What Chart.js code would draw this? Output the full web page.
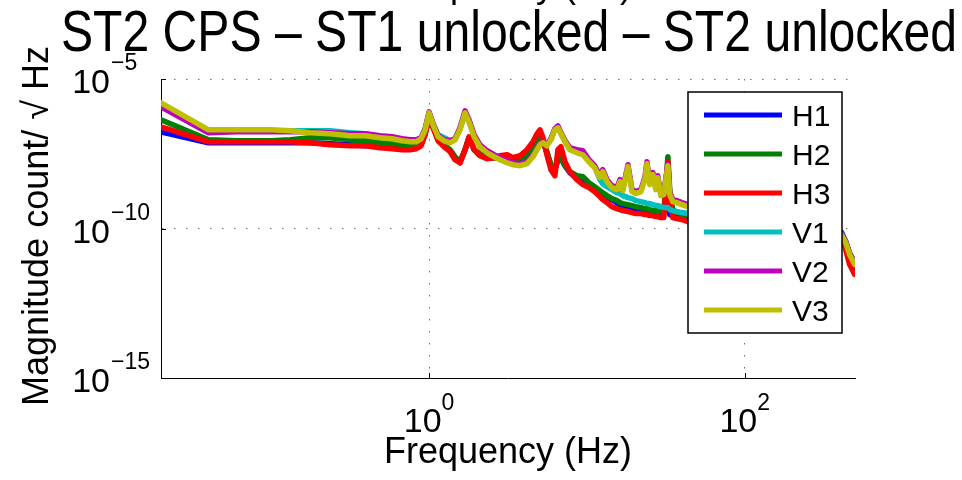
<!DOCTYPE html>
<html>
<head>
<meta charset="utf-8">
<script src="https://cdn.jsdelivr.net/npm/chart.js@4.4.1/dist/chart.umd.min.js"></script>
<style>
  html, body { margin:0; padding:0; background:#fff; }
  #wrap { width:962px; height:480px; }
</style>
</head>
<body>
<div id="wrap"><canvas id="chart" width="962" height="480"></canvas></div>
<script>
// Dados (frequência em Hz, magnitude em count/√Hz)
const freqs = [0.02,0.04,0.06,0.08,0.1,0.132,0.177,0.236,0.316,0.394,
  0.49,0.583,0.675,0.758,0.828,0.889,0.944,1.0,1.06,1.14,
  1.245,1.36,1.46,1.57,1.69,1.79,1.93,2.10,2.33,2.58,
  2.81,3.12,3.40,3.77,4.17,4.55,4.83,5.04,5.27,5.58,
  5.92,6.27,6.55,6.84,7.26,7.80,8.64,9.43,10.3,11.2,
  12.1,12.6,13.4,14.4,15.5,16.2,16.9,18.2,19.3,20.4,
  22.0,23.3,24.0,25.0,26.2,27.3,28.1,29.4,30.7,32.6,
  33.5,35.0,37.1,39.9,43.6,60,93,144,223,345,
  411,436,462,497];

const h1 = [1.71e-7,7.36e-8,7.36e-8,7.36e-8,7.36e-8,7.36e-8,7.36e-8,6.81e-8,6.31e-8,5.84e-8,
  5.84e-8,5.41e-8,5.01e-8,5.01e-8,5.01e-8,6.31e-8,1.47e-7,6.31e-7,2.51e-7,9.26e-8,
  5.84e-8,3.98e-8,2.33e-8,1.71e-8,4.3e-8,1.08e-7,4.3e-8,2.93e-8,2.51e-8,2.33e-8,
  2.33e-8,2.15e-8,2.0e-8,2.0e-8,2.51e-8,4.3e-8,7.36e-8,1.08e-7,8.58e-8,3.41e-8,
  1.26e-8,9.26e-9,2.0e-8,2.33e-8,1.26e-8,7.36e-9,5.01e-9,3.69e-9,2.71e-9,2.0e-9,
  1.47e-9,1.26e-9,1.08e-9,9.26e-10,7.36e-10,6.31e-10,5.84e-10,5.41e-10,5.01e-10,4.64e-10,
  4.3e-10,3.98e-10,3.98e-10,3.69e-10,3.69e-10,3.41e-10,3.41e-10,3.16e-10,3.41e-10,6.31e-9,
  2.93e-10,2.71e-10,2.71e-10,2.51e-10,2.33e-10,2.15e-10,1.71e-10,1.47e-10,1.26e-10,9.26e-11,
  7.36e-11,3.69e-11,1.47e-11,6.81e-12];

const h2 = [4.3e-7,9.26e-8,8.58e-8,8.58e-8,8.58e-8,9.26e-8,1.08e-7,1.08e-7,9.26e-8,8.58e-8,
  7.36e-8,6.81e-8,6.31e-8,5.84e-8,5.84e-8,6.81e-8,1.58e-7,6.31e-7,2.51e-7,1.0e-7,
  6.31e-8,4.3e-8,2.51e-8,1.58e-8,4.3e-8,1.08e-7,4.3e-8,3.16e-8,2.51e-8,2.33e-8,
  2.33e-8,2.15e-8,2.0e-8,2.0e-8,2.51e-8,4.3e-8,7.36e-8,1.08e-7,8.58e-8,3.69e-8,
  1.36e-8,9.26e-9,2.0e-8,2.33e-8,1.26e-8,7.94e-9,5.84e-9,5.41e-9,3.41e-9,2.51e-9,
  1.85e-9,1.58e-9,1.26e-9,1.0e-9,8.58e-10,7.36e-10,6.81e-10,6.31e-10,5.84e-10,5.41e-10,
  5.01e-10,4.64e-10,4.64e-10,4.3e-10,3.98e-10,3.98e-10,3.69e-10,3.69e-10,3.41e-10,2.51e-8,
  2.0e-9,4.3e-10,3.41e-10,2.93e-10,2.71e-10,2.33e-10,1.85e-10,1.58e-10,1.26e-10,9.26e-11,
  6.31e-11,2.93e-11,1.08e-11,5.01e-12];

const h3 = [2.51e-7,7.94e-8,7.94e-8,7.94e-8,7.94e-8,7.94e-8,7.36e-8,6.31e-8,5.84e-8,5.84e-8,
  5.01e-8,4.64e-8,4.3e-8,4.3e-8,4.64e-8,5.84e-8,1.36e-7,5.84e-7,2.33e-7,8.58e-8,
  5.41e-8,3.69e-8,2.0e-8,1.58e-8,4.3e-8,1.17e-7,4.3e-8,2.71e-8,2.15e-8,2.33e-8,
  2.71e-8,2.93e-8,2.33e-8,2.71e-8,4.3e-8,7.94e-8,1.47e-7,2.0e-7,1.08e-7,2.93e-8,
  9.26e-9,5.84e-9,4.3e-8,5.41e-8,1.71e-8,7.94e-9,4.3e-9,2.93e-9,2.33e-9,1.71e-9,
  1.17e-9,9.26e-10,7.36e-10,5.41e-10,4.64e-10,4.3e-10,3.98e-10,3.69e-10,3.41e-10,3.16e-10,
  3.16e-10,2.93e-10,2.93e-10,2.71e-10,2.71e-10,2.51e-10,2.51e-10,2.33e-10,2.33e-10,1.71e-8,
  9.26e-10,2.33e-10,2.15e-10,2.0e-10,1.71e-10,1.47e-10,1.26e-10,1.08e-10,9.26e-11,6.81e-11,
  5.01e-11,2.0e-11,6.31e-12,2.93e-12];

const v1 = [1.36e-6,1.85e-7,1.85e-7,1.85e-7,1.85e-7,1.85e-7,1.85e-7,1.85e-7,1.58e-7,1.47e-7,
  1.17e-7,1.0e-7,9.26e-8,8.58e-8,8.58e-8,1.08e-7,2.15e-7,7.36e-7,3.16e-7,1.36e-7,
  1.08e-7,8.58e-8,1.0e-7,2.15e-7,7.94e-7,3.98e-7,1.26e-7,5.84e-8,3.69e-8,2.71e-8,
  2.15e-8,1.71e-8,1.47e-8,1.36e-8,1.58e-8,2.71e-8,4.64e-8,6.81e-8,7.94e-8,6.31e-8,
  1.0e-7,2.15e-7,2.51e-7,1.58e-7,8.58e-8,4.64e-8,3.69e-8,3.16e-8,1.85e-8,1.17e-8,
  4.3e-9,3.16e-9,2.51e-9,2.0e-9,1.58e-9,1.47e-9,1.26e-9,1.08e-9,1.0e-9,8.58e-10,
  7.94e-10,7.36e-10,6.81e-10,6.81e-10,6.31e-10,5.84e-10,5.84e-10,5.41e-10,5.01e-10,5.01e-10,
  4.3e-10,3.98e-10,3.69e-10,3.41e-10,3.16e-10,2.93e-10,2.33e-10,1.85e-10,1.47e-10,1.0e-10,
  6.81e-11,3.69e-11,1.47e-11,7.36e-12];

const v2 = [1.17e-6,1.58e-7,1.71e-7,1.71e-7,1.71e-7,1.71e-7,1.71e-7,1.58e-7,1.47e-7,1.47e-7,
  1.26e-7,1.17e-7,1.0e-7,9.26e-8,9.26e-8,1.08e-7,2.15e-7,7.94e-7,3.16e-7,1.26e-7,
  9.26e-8,8.58e-8,1.0e-7,2.33e-7,8.58e-7,4.3e-7,1.36e-7,6.31e-8,3.98e-8,2.93e-8,
  2.33e-8,1.85e-8,1.58e-8,1.47e-8,1.71e-8,2.71e-8,4.64e-8,6.81e-8,7.94e-8,6.31e-8,
  1.0e-7,2.15e-7,2.71e-7,1.58e-7,8.58e-8,5.01e-8,4.3e-8,3.98e-8,2.0e-8,1.26e-8,
  5.84e-9,9.26e-9,4.3e-9,2.71e-9,2.33e-9,4.3e-9,2.15e-9,1.36e-8,2.0e-9,1.71e-9,
  2.0e-9,5.01e-9,1.71e-8,3.41e-9,7.36e-9,2.33e-9,5.84e-9,1.47e-9,1.58e-9,1.36e-8,
  1.58e-9,9.26e-10,8.58e-10,7.36e-10,6.31e-10,4.64e-10,3.41e-10,2.51e-10,1.85e-10,1.17e-10,
  6.31e-11,3.69e-11,1.47e-11,7.36e-12];

const v3 = [1.58e-6,2.0e-7,2.0e-7,2.0e-7,2.0e-7,1.85e-7,1.58e-7,1.47e-7,1.26e-7,1.26e-7,
  1.08e-7,1.0e-7,8.58e-8,7.94e-8,7.94e-8,1.0e-7,2.0e-7,7.36e-7,2.93e-7,1.17e-7,
  8.58e-8,7.36e-8,9.26e-8,2.0e-7,7.36e-7,3.69e-7,1.17e-7,5.41e-8,3.41e-8,2.51e-8,
  2.0e-8,1.58e-8,1.36e-8,1.26e-8,1.47e-8,2.51e-8,4.3e-8,6.31e-8,7.36e-8,5.84e-8,
  9.26e-8,2.0e-7,2.33e-7,1.47e-7,7.94e-8,4.3e-8,3.41e-8,2.93e-8,1.71e-8,1.08e-8,
  5.01e-9,7.94e-9,3.69e-9,2.33e-9,2.0e-9,3.69e-9,1.85e-9,1.17e-8,1.71e-9,1.47e-9,
  1.71e-9,4.3e-9,1.47e-8,2.93e-9,6.31e-9,2.0e-9,5.01e-9,1.26e-9,1.36e-9,1.26e-8,
  1.36e-9,7.94e-10,7.36e-10,6.31e-10,5.41e-10,4.3e-10,3.16e-10,2.33e-10,1.71e-10,1.08e-10,
  5.84e-11,3.41e-11,1.36e-11,6.31e-12];

const seriesNames = ['H1','H2','H3','V1','V2','V3'];
const seriesColors = ['#0000ff','#008000','#ff0000','#00bfbf','#bf00bf','#bfbf00'];
const seriesValues = [h1, h2, h3, v1, v2, v3];

const xTickValues = [1, 100];
const xTickExps = ['0', '2'];
const yTickValues = [1e-15, 1e-10, 1e-5];
const yTickExps = ['\u221215', '\u221210', '\u22125'];

const titleText = 'ST2 CPS \u2013 ST1 unlocked \u2013 ST2 unlocked';
const xLabel = 'Frequency (Hz)';
const yLabel = 'Magnitude count/ \u221A Hz';

const FONT = '"Liberation Sans", Arial, Helvetica, sans-serif';

function strokeLine(ctx, x1, y1, x2, y2) {
  ctx.beginPath(); ctx.moveTo(x1, y1); ctx.lineTo(x2, y2); ctx.stroke();
}

// Textos, marcas de eixo e legenda no estilo MATLAB
const decor = {
  id: 'decor',
  beforeDatasetsDraw(chart) {
    const { ctx, chartArea: a, scales: { x, y } } = chart;
    ctx.save();
    ctx.strokeStyle = '#000'; ctx.lineWidth = 1;
    xTickValues.forEach(v => {
      const px = Math.round(x.getPixelForValue(v)) + 0.5;
      strokeLine(ctx, px, a.bottom, px, a.bottom - 5);
    });
    yTickValues.forEach(v => {
      const py = Math.round(y.getPixelForValue(v)) + 0.5;
      strokeLine(ctx, a.left, py, a.left + 5, py);
    });
    ctx.restore();
  },
  afterDraw(chart) {
    const { ctx, chartArea: a, scales: { x, y } } = chart;
    ctx.save();
    ctx.fillStyle = '#000';

    // rótulos dos ticks: 10 com expoente
    ctx.textBaseline = 'alphabetic';
    yTickValues.forEach((v, i) => {
      const py = y.getPixelForValue(v);
      ctx.font = '34px ' + FONT; ctx.textAlign = 'right';
      ctx.fillText('10', 110, py + 14);
      ctx.font = '23px ' + FONT; ctx.textAlign = 'left';
      ctx.fillText(yTickExps[i], 111, py - 9);
    });
    xTickValues.forEach((v, i) => {
      const px = x.getPixelForValue(v);
      ctx.font = '34px ' + FONT;
      const wb = ctx.measureText('10').width;
      ctx.font = '23px ' + FONT;
      const we = ctx.measureText(xTickExps[i]).width;
      const left = px - (wb + we) / 2;
      ctx.textAlign = 'left';
      ctx.font = '34px ' + FONT; ctx.fillText('10', left, a.bottom + 54);
      ctx.font = '23px ' + FONT; ctx.fillText(xTickExps[i], left + wb, a.bottom + 32);
    });

    // eixo x (e resto do subplot de cima, cortado)
    ctx.font = '36px ' + FONT; ctx.textAlign = 'center';
    ctx.fillText(xLabel, 508, 463);
    ctx.fillText(xLabel, 508, -3);

    // eixo y
    ctx.save();
    ctx.translate(48, 226); ctx.rotate(-Math.PI / 2);
    ctx.font = '36px ' + FONT; ctx.textAlign = 'center';
    ctx.fillText(yLabel, 0, 0);
    ctx.restore();

    // título (fonte estreita)
    ctx.save();
    ctx.font = '58px ' + FONT;
    const tw = ctx.measureText(titleText).width;
    ctx.translate(509, 51); ctx.scale(896 / tw, 1);
    ctx.textAlign = 'center';
    ctx.fillText(titleText, 0, 0);
    ctx.restore();

    // legenda
    const bx = 688, by = 92, bw = 154, bh = 241;
    ctx.fillStyle = '#fff'; ctx.fillRect(bx, by, bw, bh);
    ctx.strokeStyle = '#000'; ctx.lineWidth = 1.5;
    ctx.strokeRect(bx, by, bw, bh);
    ctx.font = '30px ' + FONT; ctx.textAlign = 'left';
    seriesNames.forEach((name, i) => {
      const ry = 115 + i * 39;
      ctx.strokeStyle = seriesColors[i]; ctx.lineWidth = 5;
      strokeLine(ctx, 704, ry, 782, ry);
      ctx.fillStyle = '#000';
      ctx.fillText(name, 792, ry + 11);
    });
    ctx.restore();
  }
};

// V3 por cima, H1 por baixo (como no MATLAB)
const datasets = seriesNames.map((name, i) => ({
  label: name,
  data: freqs.map((f, j) => ({ x: f, y: seriesValues[i][j] })),
  order: seriesNames.length - 1 - i,
  borderColor: seriesColors[i],
  backgroundColor: seriesColors[i],
  borderWidth: 5.5,
  pointRadius: 0,
  tension: 0,
  borderJoinStyle: 'round',
  borderCapStyle: 'round'
}));

const gridStyle = { color: '#707070', lineWidth: 1, drawTicks: false };
const borderStyle = { display: true, color: '#000', width: 1, dash: [1.5, 10.5] };

new Chart(document.getElementById('chart'), {
  type: 'line',
  data: { datasets },
  options: {
    responsive: false,
    animation: false,
    devicePixelRatio: 1,
    layout: { padding: { left: 161, top: 79, right: 107, bottom: 102 } },
    plugins: { legend: { display: false }, title: { display: false }, tooltip: { enabled: false } },
    scales: {
      x: {
        type: 'logarithmic', min: 0.02, max: 500,
        afterBuildTicks: s => { s.ticks = xTickValues.map(v => ({ value: v })); },
        ticks: { display: false },
        grid: gridStyle, border: borderStyle
      },
      y: {
        type: 'logarithmic', min: 1e-15, max: 1e-5,
        afterBuildTicks: s => { s.ticks = yTickValues.map(v => ({ value: v })); },
        ticks: { display: false },
        grid: gridStyle, border: borderStyle
      }
    }
  },
  plugins: [decor]
});
</script>
</body>
</html>
